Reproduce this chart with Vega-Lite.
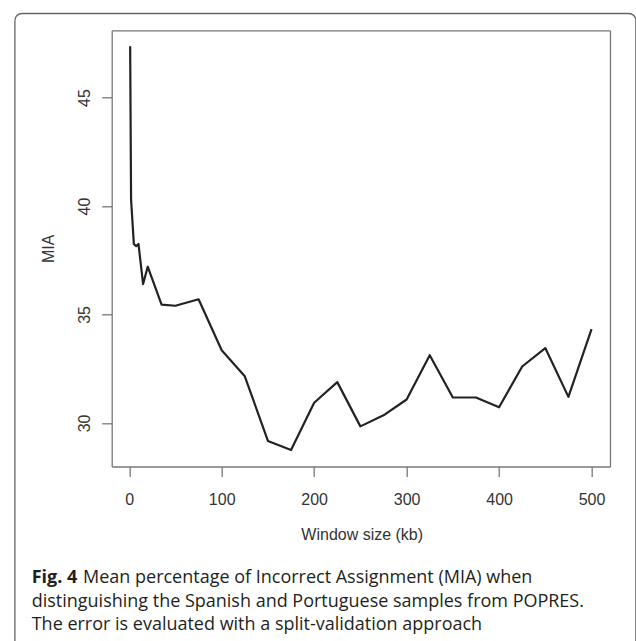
{
  "$schema": "https://vega.github.io/schema/vega-lite/v6.json",
  "width": 621,
  "height": 640,
  "autosize": {"type": "none"},
  "padding": {"left": 14.7, "top": 13.3, "right": 0, "bottom": 0},
  "background": "white",
  "config": {
    "view": {"stroke": "#666666", "strokeWidth": 1.3, "cornerRadius": 7},
    "axis": {"grid": false, "domainColor": "#777777", "domainWidth": 1.3, "tickColor": "#777777", "tickWidth": 1.3}
  },
  "title": {
    "text": "Fig. 4",
    "subtitle": [
      "\u200b\u00a0\u00a0\u00a0\u00a0\u00a0\u00a0\u00a0\u00a0\u00a0\u00a0\u00a0Mean percentage of Incorrect Assignment (MIA) when",
      "distinguishing the Spanish and Portuguese samples from POPRES.",
      "The error is evaluated with a split-validation approach"
    ],
    "orient": "bottom",
    "anchor": "start",
    "frame": "group",
    "offset": -84,
    "dx": 17,
    "baseline": "top",
    "font": "Open Sans",
    "fontSize": 18,
    "fontWeight": "bold",
    "color": "#231f20",
    "subtitleFont": "Open Sans",
    "subtitleFontSize": 18,
    "subtitleColor": "#231f20",
    "subtitleLineHeight": 23.3,
    "subtitlePadding": -18
  },
  "data": {
    "values": [
      {"window": 1, "mia": 47.36},
      {"window": 2, "mia": 40.3},
      {"window": 5, "mia": 38.25},
      {"window": 7.5, "mia": 38.15},
      {"window": 10, "mia": 38.25},
      {"window": 15, "mia": 36.4},
      {"window": 20, "mia": 37.2},
      {"window": 35, "mia": 35.45},
      {"window": 50, "mia": 35.4},
      {"window": 75, "mia": 35.7},
      {"window": 100, "mia": 33.35},
      {"window": 125, "mia": 32.15},
      {"window": 150, "mia": 29.17},
      {"window": 175, "mia": 28.75},
      {"window": 200, "mia": 30.93},
      {"window": 225, "mia": 31.88},
      {"window": 250, "mia": 29.84},
      {"window": 275, "mia": 30.35},
      {"window": 300, "mia": 31.08},
      {"window": 325, "mia": 33.12},
      {"window": 350, "mia": 31.17},
      {"window": 375, "mia": 31.17},
      {"window": 400, "mia": 30.72},
      {"window": 425, "mia": 32.6},
      {"window": 450, "mia": 33.45},
      {"window": 475, "mia": 31.2},
      {"window": 500, "mia": 34.32}
    ]
  },
  "resolve": {"axis": {"x": "independent", "y": "independent"}},
  "layer": [
    {
      "mark": {"type": "line", "color": "#222222", "strokeWidth": 2.2, "strokeJoin": "round"},
      "encoding": {
        "x": {
          "field": "window",
          "type": "quantitative",
          "scale": {"domain": [-18.96, 519.96], "range": [97, 595.3], "nice": false, "zero": false},
          "axis": {
            "orient": "bottom",
            "offset": -186.8,
            "values": [0, 100, 200, 300, 400, 500],
            "tickSize": 10,
            "labelFont": "Liberation Sans",
            "labelFontSize": 16,
            "labelColor": "#333333",
            "labelPadding": 15,
            "labelBaseline": "top",
            "labelFlush": false,
            "title": "Window size (kb)",
            "titleFont": "Liberation Sans",
            "titleFontSize": 16,
            "titleFontWeight": "normal",
            "titleColor": "#333333",
            "titleBaseline": "alphabetic",
            "titleX": 347,
            "titleY": 73
          }
        },
        "y": {
          "field": "mia",
          "type": "quantitative",
          "scale": {"domain": [27.99, 48.1], "range": [453.2, 17], "nice": false, "zero": false},
          "axis": {
            "orient": "left",
            "offset": -97,
            "values": [30, 35, 40, 45],
            "tickSize": 10,
            "labelAngle": -90,
            "labelAlign": "center",
            "labelBaseline": "alphabetic",
            "labelPadding": 12.6,
            "labelFont": "Liberation Sans",
            "labelFontSize": 16,
            "labelColor": "#333333",
            "labelFlush": false,
            "title": "MIA",
            "titleFont": "Liberation Sans",
            "titleFontSize": 16,
            "titleFontWeight": "normal",
            "titleColor": "#333333",
            "titleAngle": -90,
            "titleAlign": "center",
            "titleBaseline": "alphabetic",
            "titleX": -58.6,
            "titleY": 235
          }
        }
      }
    },
    {
      "mark": {"type": "line", "strokeOpacity": 0},
      "encoding": {
        "x": {
          "field": "window",
          "type": "quantitative",
          "scale": {"domain": [-18.96, 519.96], "range": [97, 595.3], "nice": false, "zero": false},
          "axis": {"orient": "top", "offset": -17, "ticks": false, "labels": false, "title": null}
        },
        "y": {
          "field": "mia",
          "type": "quantitative",
          "scale": {"domain": [27.99, 48.1], "range": [453.2, 17], "nice": false, "zero": false},
          "axis": {"orient": "right", "offset": -25.7, "ticks": false, "labels": false, "title": null}
        }
      }
    }
  ]
}
